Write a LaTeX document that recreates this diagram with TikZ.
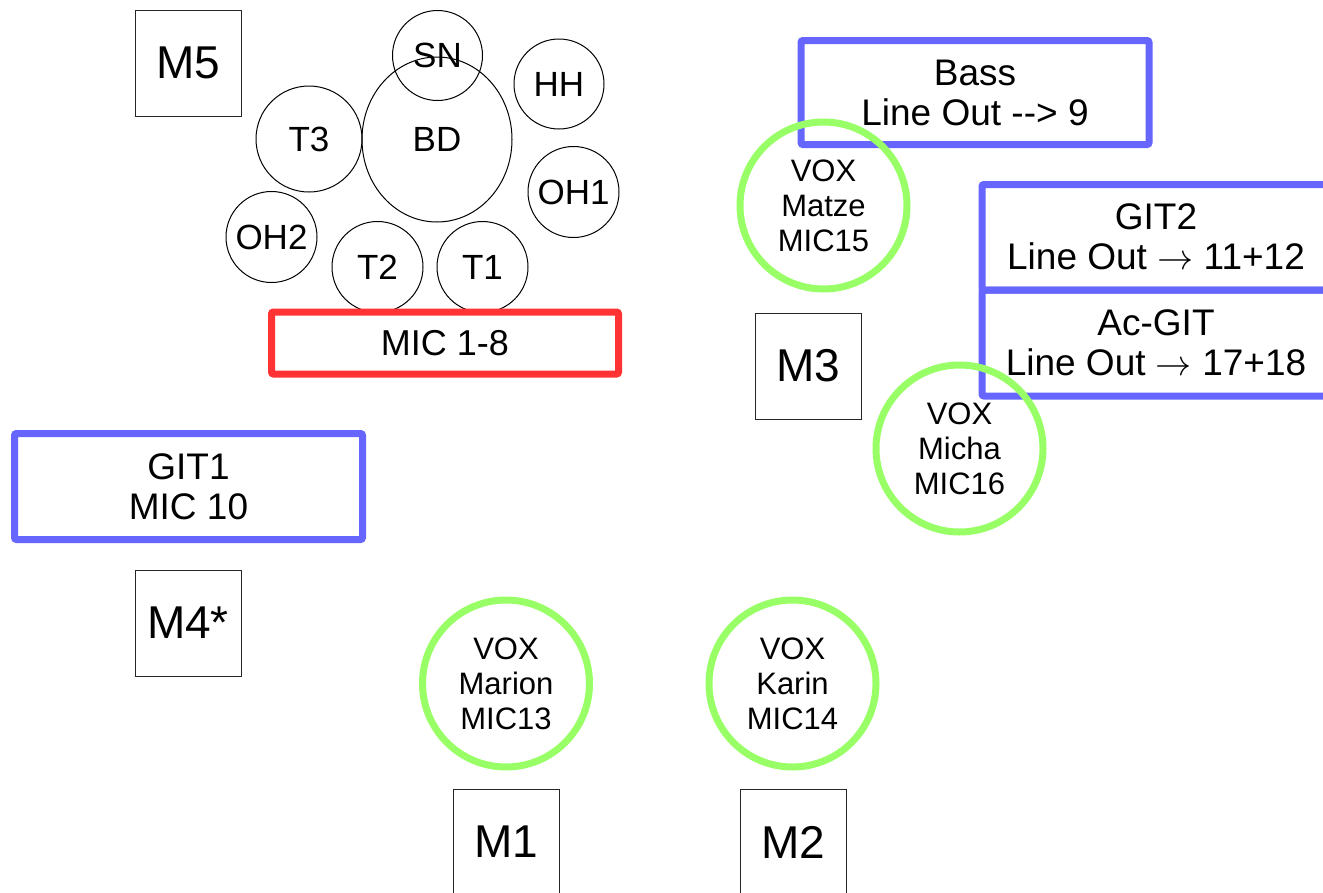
\documentclass[tikz,border=0pt]{standalone}
\usepackage{fontspec}
\setmainfont{Liberation Sans}
\usetikzlibrary{shapes.geometric}
\definecolor{bluec}{RGB}{102,102,255}
\definecolor{redc}{RGB}{255,51,51}
\definecolor{greenc}{RGB}{153,255,102}
\newcommand{\bigarrow}{\raisebox{0pt}[0pt][0pt]{\scalebox{1.45}{$\rightarrow$}}}
\begin{document}
\begin{tikzpicture}[x=1pt,y=-1pt,
  mbox/.style={draw=black!85, line width=1pt, rectangle, minimum size=106pt, inner sep=0pt, font=\fontsize{46}{50}\selectfont},
  drum/.style={draw=black, circle, line width=1pt, inner sep=0pt, font=\fontsize{35}{40}\selectfont},
  bluebox/.style={draw=bluec, line width=7pt, rectangle, rounded corners=2pt, inner sep=0pt, align=center, font=\fontsize{37}{40}\selectfont},
  redbox/.style={draw=redc, line width=7pt, rectangle, rounded corners=2pt, inner sep=0pt, align=center, font=\fontsize{36}{40}\selectfont},
  vox/.style={draw=greenc, circle, line width=7pt, minimum size=167pt, inner sep=0pt, align=center, font=\fontsize{31}{35}\selectfont},
]
\path[use as bounding box, clip] (0,0) rectangle (1323,892);
\fill[white] (0,0) rectangle (1323,892);

% drum kit
\node[drum, minimum size=106pt] (t3) at (309,139) {T3};
\node[drum, ellipse, minimum width=150pt, minimum height=165pt] (bd) at (437,139.5) {BD};
\node[drum, minimum size=90pt] (sn) at (437.5,55.5) {SN};
\node[drum, minimum size=90pt] (hh) at (559,84) {HH};
\node[drum, minimum size=91pt] (oh1) at (573.5,192) {OH1};
\node[drum, minimum size=91pt] (oh2) at (271.5,237) {OH2};
\node[drum, minimum size=91pt] (t2) at (377.5,267) {T2};
\node[drum, minimum size=91pt] (t1) at (482.5,267) {T1};

% drum mics
\node[redbox, fill=white, minimum width=347pt, minimum height=62pt] (mic18) at (445,343) {MIC 1-8};

% monitors
\node[mbox] (m5) at (188,63) {M5};
\node[mbox] (m4) at (188,623) {M4*};
\node[mbox] (m3) at (808,366) {M3};
\node[mbox] (m1) at (506,842) {M1};
\node[mbox] (m2) at (793,842) {M2};

% instruments
\node[bluebox, minimum width=348pt, minimum height=104pt] (bass) at (975,92.5) {Bass\\Line Out -{}-{}> 9};
\node[bluebox, minimum width=348pt, minimum height=106pt] (git1) at (188.5,486.5) {GIT1\\MIC 10};
\node[bluebox, minimum width=348pt, minimum height=105.5pt] (git2) at (1156,237.25) {GIT2\\Line Out \bigarrow{} 11+12};
\node[bluebox, minimum width=348pt, minimum height=106pt] (acgit) at (1156,343) {Ac-GIT\\Line Out \bigarrow{} 17+18};

% vocals
\node[vox] (matze) at (823.5,205.5) {VOX\\Matze\\MIC15};
\node[vox] (micha) at (959.5,448.5) {VOX\\Micha\\MIC16};
\node[vox] (marion) at (506,683.5) {VOX\\Marion\\MIC13};
\node[vox] (karin) at (792.5,683.5) {VOX\\Karin\\MIC14};
\end{tikzpicture}
\end{document}
